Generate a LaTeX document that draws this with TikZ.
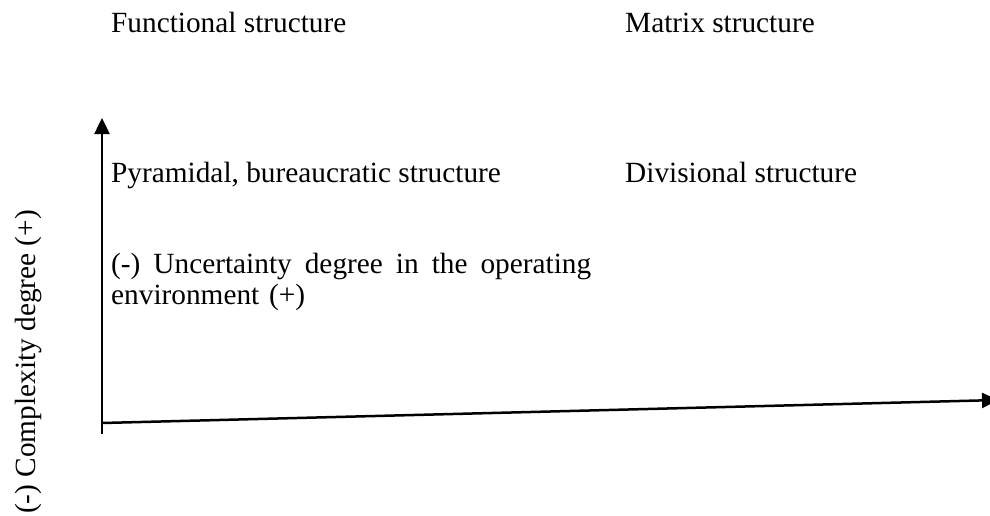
\documentclass[tikz,border=0pt]{standalone}
\usepackage{fontspec}
\setmainfont{Liberation Serif}
\usetikzlibrary{arrows.meta}
\tikzset{
  lbl/.style={anchor=base west, inner sep=0pt, font=\fontsize{29.3}{31}\selectfont},
  axis/.style={line width=2.5pt, -{Triangle[length=16pt,width=15pt]}}
}
\begin{document}
\begin{tikzpicture}[x=1pt,y=-1pt]
\useasboundingbox (0,0) rectangle (990,515);
\clip (0,0) rectangle (990,515);
\node[lbl] (func) at (111,32) {Functional structure};
\node[lbl] (matrix) at (625,32) {Matrix structure};
\node[lbl] (pyr) at (111,182) {Pyramidal, bureaucratic structure};
\node[lbl] (div) at (625,182) {Divisional structure};
\node[lbl, text width=480pt, align=left] (unc) at (111,273) {\hbox to 480pt{(-)\hfill Uncertainty\hfill degree\hfill in\hfill the\hfill operating}\\environment (+)};
\node[lbl, anchor=base, rotate=90] (cplx) at (35,362) {(-) Complexity degree (+)};
\coordinate (o) at (102,434);
\coordinate (ytip) at (102,118);
\coordinate (xs) at (102,423);
\coordinate (xtip) at (998,400);
\draw[axis] (o) -- (ytip);
\draw[axis] (xs) -- (xtip);
\end{tikzpicture}
\end{document}
